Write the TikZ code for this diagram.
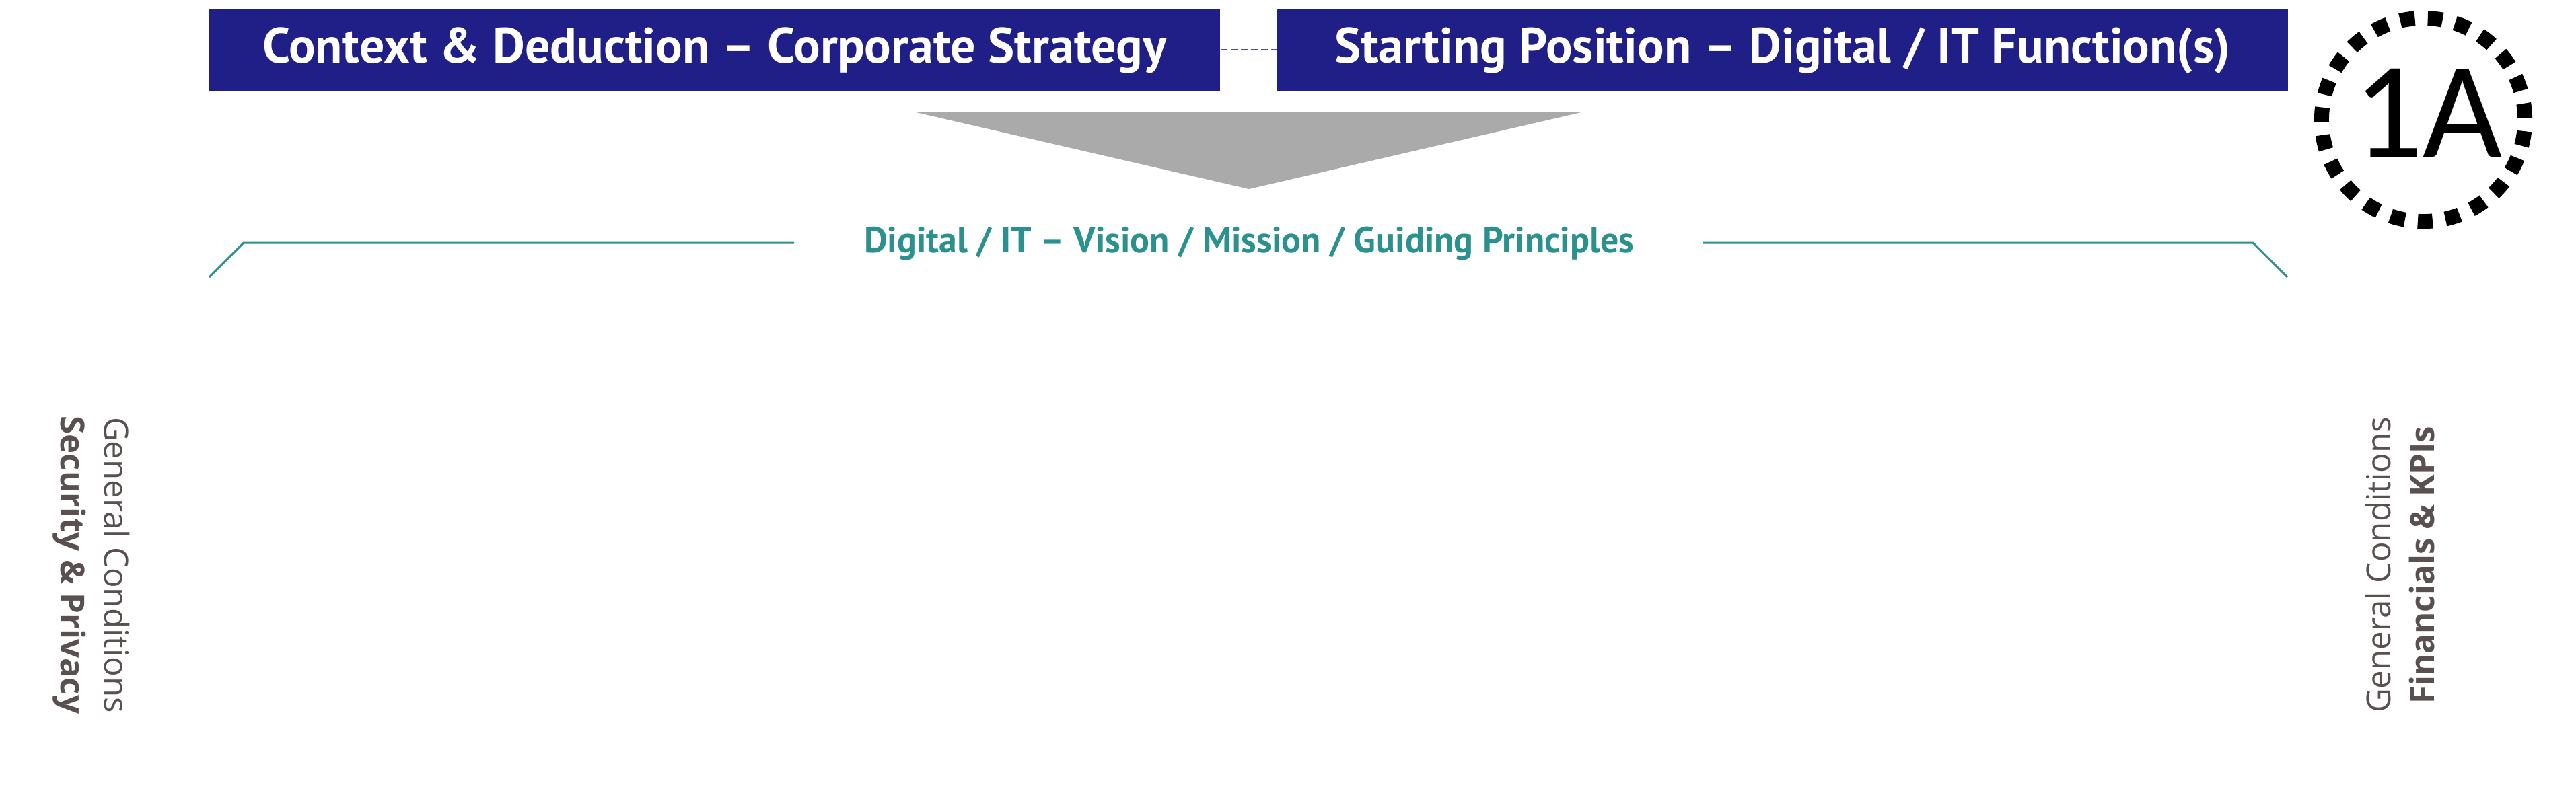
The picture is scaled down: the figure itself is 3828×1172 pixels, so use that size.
\documentclass[tikz,border=0pt]{standalone}
\usepackage{fontspec}
\setmainfont{Open Sans}
\newfontfamily\headfont{PT Sans}
\newfontfamily\numfont{Carlito}
\definecolor{boxblue}{HTML}{1F1F87}
\definecolor{tealc}{HTML}{2A918F}
\definecolor{arrowgray}{HTML}{AAAAAA}
\definecolor{sidegray}{HTML}{5A5050}
\tikzset{
  hbox/.style={fill=boxblue, text=white, inner sep=0pt, minimum height=1.22cm,
    text height=0.5cm, text depth=0.12cm, font=\headfont\bfseries\fontsize{21}{24}\selectfont},
  conn/.style={boxblue!80, line width=0.6pt, dash pattern=on 0.1cm off 0.05cm},
  tealtext/.style={text=tealc, inner sep=0pt, font=\headfont\bfseries\fontsize{15.3}{18}\selectfont},
  tealline/.style={tealc, line width=0.85pt},
  sidelab/.style={text=sidegray, inner sep=0pt, font=\fontsize{14}{17}\selectfont},
  sidebold/.style={sidelab, font=\bfseries\fontsize{14}{17}\selectfont},
  badge/.style={line width=0.22cm, dash pattern=on 0.22cm off 0.1925cm, dash phase=0.39cm},
}
\begin{document}
\begin{tikzpicture}[x=0.01cm, y=-0.01cm]
\useasboundingbox (0,0) rectangle (3828,1172);
% header boxes
\node[hbox, minimum width=15.02cm] (ctx) at (1062,74) {Context \& Deduction – Corporate Strategy};
\node[hbox, minimum width=15.02cm] (start) at (2649,74) {Starting Position – Digital / IT Function(s)};
\draw[conn] (ctx.east) -- (start.west);
% gray funnel arrow
\fill[arrowgray] (1357,166) -- (2354,166) -- (1856,281) -- cycle;
% vision title with bracket lines
\node[tealtext, anchor=base] (vision) at (1856,375) {Digital / IT – Vision / Mission / Guiding Principles};
\coordinate (l1) at (311,412);
\coordinate (l2) at (362,361);
\coordinate (l3) at (1180,361);
\coordinate (r1) at (2531,361);
\coordinate (r2) at (3348,361);
\coordinate (r3) at (3399,412);
\draw[tealline] (l1) -- (l2) -- (l3);
\draw[tealline] (r1) -- (r2) -- (r3);
% badge
\draw[badge] (3601,178) circle[radius=1.51cm];
\node[anchor=base, inner sep=0pt, font=\numfont\fontsize{58}{60}\selectfont] (badgetext) at (3608,233) {1A};
% side labels
\node[sidelab, rotate=-90, anchor=base] (lgen) at (155,840) {General Conditions};
\node[sidebold, rotate=-90, anchor=base] (lsec) at (90,840) {Security \& Privacy};
\node[sidelab, rotate=90, anchor=base] (rgen) at (3552,840) {General Conditions};
\node[sidebold, rotate=90, anchor=base] (rfin) at (3617,840) {Financials \& KPIs};
\end{tikzpicture}
\end{document}
